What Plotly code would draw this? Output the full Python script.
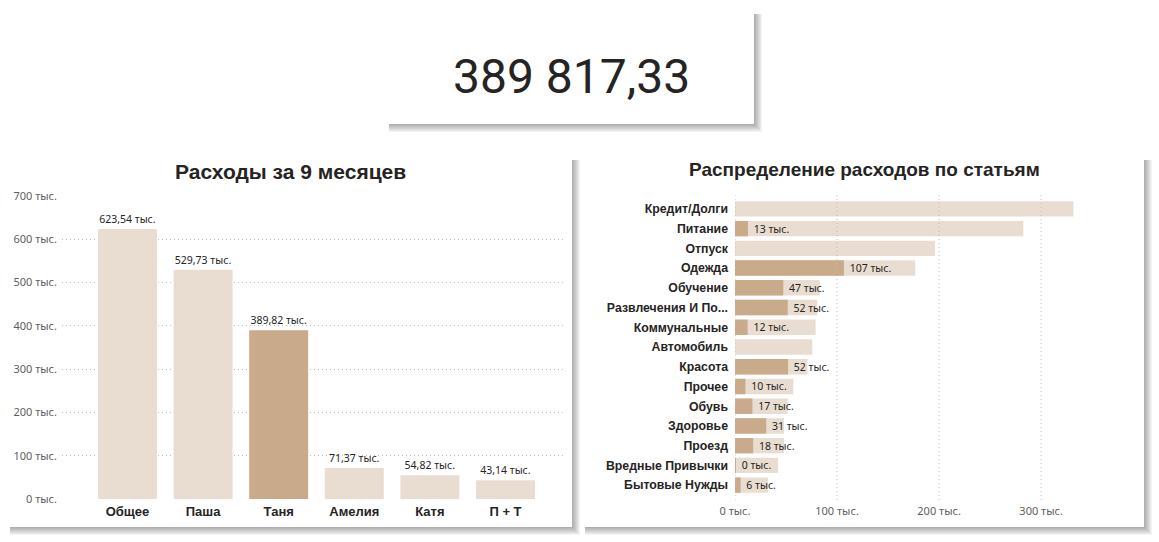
import plotly.graph_objects as go

W, H = 1159, 542

# ---------------- data ----------------
kpi_value = 389817.33

people = ["Общее", "Паша", "Таня", "Амелия", "Катя", "П + Т"]
people_totals = [623.54, 529.73, 389.82, 71.37, 54.82, 43.14]  # тыс.
highlight_person = "Таня"

categories = ["Кредит/Долги", "Питание", "Отпуск", "Одежда", "Обучение",
              "Развлечения И По...", "Коммунальные", "Автомобиль", "Красота",
              "Прочее", "Обувь", "Здоровье", "Проезд", "Вредные Привычки",
              "Бытовые Нужды"]
category_totals = [331.6, 282.5, 195.9, 176.6, 83.0, 80.5, 79.0, 75.7, 71.0,
                   57.2, 51.7, 48.0, 48.0, 42.2, 32.4]  # тыс.
category_tanya = [None, 12.7, None, 106.7, 47.3, 51.7, 12.4, None, 52.0,
                  10.2, 17.1, 30.6, 17.8, 0.3, 5.5]  # тыс.

left_ticks = [0, 100, 200, 300, 400, 500, 600, 700]
right_ticks = [0, 100, 200, 300]

# ---------------- style ----------------
LIGHT = "#E8DDD0"
DARK = "#C9AA8B"
TXT = "#252423"
TICK = "#605E5C"
GRID = "#BEBCBA"
DOTS = "1px,3px"
TICKFONT = "Noto Sans"
BOLDFONT = "Liberation Sans"


def px(x):
    return x / W


def py(y):
    return 1 - y / H


def fmt_k(v):
    return f"{v:.2f}".replace(".", ",") + " тыс."


def fmt_kpi(v):
    s = f"{v:,.2f}"
    return s.replace(",", " ").replace(".", ",")


fig = go.Figure()

# left chart
fig.add_trace(go.Bar(
    x=people, y=people_totals,
    marker=dict(color=[DARK if p == highlight_person else LIGHT for p in people], line=dict(width=0)),
    width=0.78,
    text=[fmt_k(v) for v in people_totals], textposition="outside",
    textfont=dict(family=TICKFONT, size=10.5, color=TXT),
    cliponaxis=False, xaxis="x", yaxis="y", hoverinfo="x+y",
))

# right chart
fig.add_trace(go.Bar(
    y=categories, x=category_totals, orientation="h",
    marker=dict(color=LIGHT, line=dict(width=0)), width=0.78,
    xaxis="x2", yaxis="y2", hoverinfo="y+x",
))
fig.add_trace(go.Bar(
    y=categories, x=category_tanya, orientation="h",
    marker=dict(color=DARK, line=dict(width=0)), width=0.78,
    texttemplate="\u00a0%{x:.0f} тыс.", textposition="outside",
    textfont=dict(family=TICKFONT, size=10.5, color=TXT),
    cliponaxis=False, xaxis="x2", yaxis="y2", hoverinfo="y+x",
))

# ---------------- cards with shadows ----------------
cards = [(387, 12, 754, 124), (8, 158, 572, 527), (583, 158, 1144, 527)]
shapes = []
for (x0, y0, x1, y1) in cards:
    for i in range(1, 9):
        shapes.append(dict(type="rect", xref="paper", yref="paper",
                           x0=px(x0 + 2), x1=px(x1 + i), y0=py(y1 + i), y1=py(y0 + 2),
                           fillcolor="rgba(0,0,0,0.045)", line=dict(width=0), layer="below"))
    shapes.append(dict(type="rect", xref="paper", yref="paper",
                       x0=px(x0), x1=px(x1), y0=py(y1), y1=py(y0),
                       fillcolor="white", line=dict(width=0), layer="below"))

# right-chart gridlines are drawn over the bars
for t in right_ticks:
    shapes.append(dict(type="line", xref="x2", yref="paper", x0=t, x1=t,
                       y0=py(500), y1=py(194),
                       line=dict(color=GRID, width=1, dash=DOTS), layer="above"))

annotations = [
    dict(text=fmt_kpi(kpi_value), x=px(571), y=py(76), xref="paper", yref="paper",
         showarrow=False, xanchor="center", yanchor="middle",
         font=dict(family="Roboto", size=48, color=TXT, weight=400)),
    dict(text="<b>Расходы за 9 месяцев</b>", x=px(290), y=py(172), xref="paper", yref="paper",
         showarrow=False, xanchor="center", yanchor="middle",
         font=dict(family=BOLDFONT, size=21, color=TXT)),
    dict(text="<b>Распределение расходов по статьям</b>", x=px(864), y=py(170), xref="paper", yref="paper",
         showarrow=False, xanchor="center", yanchor="middle",
         font=dict(family=BOLDFONT, size=19, color=TXT)),
]

fig.update_layout(
    template="none",
    width=W, height=H, margin=dict(l=0, r=0, t=0, b=0, pad=0, autoexpand=False),
    paper_bgcolor="white", plot_bgcolor="rgba(0,0,0,0)",
    showlegend=False, barmode="overlay",
    shapes=shapes, annotations=annotations,
    xaxis=dict(domain=[px(62), px(565)], range=[-0.866, 5.787], showgrid=False, automargin=False,
               zeroline=False, showline=False, ticks="", anchor="y",
               tickfont=dict(family=BOLDFONT, size=13, color=TXT), ticklabelstandoff=3,
               tickvals=people, ticktext=[f"<b>{p}</b>" for p in people], fixedrange=True),
    yaxis=dict(domain=[py(499), py(196)], range=[0, 700], anchor="x", automargin=False,
               tickvals=left_ticks, ticktext=[f"{v} тыс." for v in left_ticks],
               tickfont=dict(family=TICKFONT, size=11, color=TICK),
               showgrid=True, gridcolor=GRID, griddash=DOTS, gridwidth=1,
               zeroline=False, showline=False, ticks="", ticklabelstandoff=4, fixedrange=True),
    xaxis2=dict(domain=[px(735), px(1133)], range=[0, 390], anchor="y2", automargin=False,
                tickvals=right_ticks, ticktext=[f"{v} тыс." for v in right_ticks],
                tickfont=dict(family=TICKFONT, size=11, color=TICK),
                showgrid=False, zeroline=False, showline=False, ticks="",
                ticklabelstandoff=8, fixedrange=True),
    yaxis2=dict(domain=[py(495), py(199)], anchor="x2", autorange="reversed", automargin=False,
                categoryorder="array", categoryarray=categories,
                tickvals=categories, ticktext=[f"<b>{c}</b>" for c in categories],
                tickfont=dict(family=BOLDFONT, size=12.3, color=TXT),
                showgrid=False, zeroline=False, showline=False, ticks="",
                ticklabelstandoff=6, fixedrange=True),
)

fig.write_html("out.html", config={"displayModeBar": False},
               post_script="document.body.style.margin='0';document.body.style.overflow='hidden';")
